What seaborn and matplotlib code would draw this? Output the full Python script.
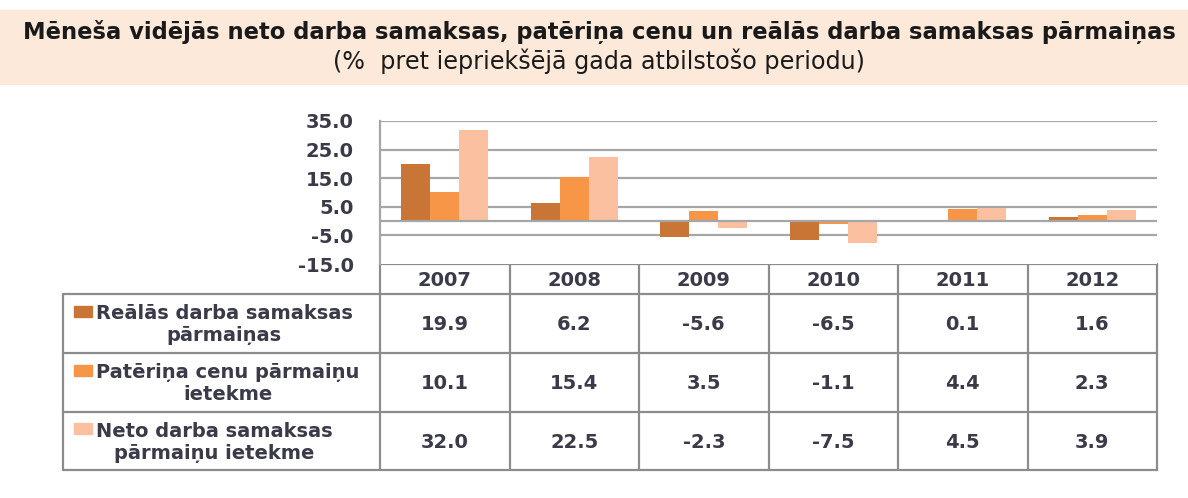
import numpy as np
import pandas as pd
import matplotlib
matplotlib.use("Agg")
import matplotlib.pyplot as plt
import seaborn as sns
from matplotlib.patches import Rectangle

years = ["2007", "2008", "2009", "2010", "2011", "2012"]
real_wage = [19.9, 6.2, -5.6, -6.5, 0.1, 1.6]
cpi_effect = [10.1, 15.4, 3.5, -1.1, 4.4, 2.3]
net_wage = [32.0, 22.5, -2.3, -7.5, 4.5, 3.9]
series_names = ["Reālās darba samaksas\npārmaiņas",
                "Patēriņa cenu pārmaiņu\nietekme",
                "Neto darba samaksas\npārmaiņu ietekme"]
colors = ["#C87535", "#F79646", "#FAC0A0"]
yticks = [35, 25, 15, 5, -5, -15]

df = pd.DataFrame({
    "year": years * 3,
    "value": real_wage + cpi_effect + net_wage,
    "series": [s for s in series_names for _ in years],
})

sns.set_style("white")
plt.rcParams["font.family"] = ["DejaVu Sans"]
txt = "#3a3a48"
grid = "#A6A6A6"

W, H = 1188, 498
fig = plt.figure(figsize=(W / 100, H / 100), dpi=100)

# title band
bg = fig.add_axes([0, 0, 1, 1])
bg.set_xlim(0, W)
bg.set_ylim(H, 0)
bg.axis("off")
bg.add_patch(Rectangle((0, 10), W, 74, color="#FDE9D9", zorder=0))
bg.text(599, 32, "Mēneša vidējās neto darba samaksas, patēriņa cenu un reālās darba samaksas pārmaiņas",
        ha="center", va="center", fontsize=16.3, fontweight="bold", color="#1a1a1a")
bg.text(599, 61, "(%  pret iepriekšējā gada atbilstošo periodu)",
        ha="center", va="center", fontsize=17.2, color="#1a1a1a")

# chart area
x0, x1, ytop, ybot = 380, 1157, 121, 264
ax = fig.add_axes([x0 / W, 1 - ybot / H, (x1 - x0) / W, (ybot - ytop) / H])
sns.barplot(data=df, x="year", y="value", hue="series", hue_order=series_names,
            palette=colors, width=0.67, saturation=1, linewidth=0,
            ax=ax, legend=False, zorder=3)
ax.set_ylim(-15, 35)
ax.set_xlim(-0.5, len(years) - 0.5)
ax.set_yticks(yticks)
ax.set_yticklabels([f"{v:.1f}" for v in yticks], fontsize=14, fontweight="bold", color=txt)
ax.tick_params(axis="y", length=0, pad=19)
ax.set_xticks([])
ax.set_xlabel("")
ax.set_ylabel("")
for v in [35, 25, 15, 5, -5]:
    ax.axhline(v, color=grid, lw=1.6, zorder=1)
ax.axhline(0, color=grid, lw=1.6, zorder=4)
for s in ["top", "right", "bottom"]:
    ax.spines[s].set_visible(False)
ax.spines["left"].set_color(grid)
ax.spines["left"].set_linewidth(1.6)

# data table
cw = (x1 - x0) / len(years)
rows = [264, 294, 353, 412, 470]
lx = 63
lc = "#8C8C8C"
lw = 1.6
bg.plot([x0, x1], [rows[0], rows[0]], color=lc, lw=lw)
for r in rows[1:]:
    bg.plot([lx, x1], [r, r], color=lc, lw=lw)
bg.plot([lx, lx], [rows[1], rows[-1]], color=lc, lw=lw)
for i in range(len(years) + 1):
    bg.plot([x0 + i * cw, x0 + i * cw], [rows[0], rows[-1]], color=lc, lw=lw)

for i, y in enumerate(years):
    bg.text(x0 + (i + 0.5) * cw, (rows[0] + rows[1]) / 2 + 1, y, ha="center", va="center",
            fontsize=14, fontweight="bold", color=txt)

table_vals = [real_wage, cpi_effect, net_wage]
for j, (name, vals, c) in enumerate(zip(series_names, table_vals, colors)):
    yc = (rows[j + 1] + rows[j + 2]) / 2
    bg.add_patch(Rectangle((74, yc - 18), 18, 11, color=c))
    bg.text(96, yc + 1, name, ha="left", va="center", multialignment="center",
            fontsize=14, fontweight="bold", color=txt, linespacing=1.2)
    for i, v in enumerate(vals):
        bg.text(x0 + (i + 0.5) * cw, yc + 1, f"{v:.1f}", ha="center", va="center",
                fontsize=14, fontweight="bold", color=txt)

fig.savefig("out.png", dpi=100)
